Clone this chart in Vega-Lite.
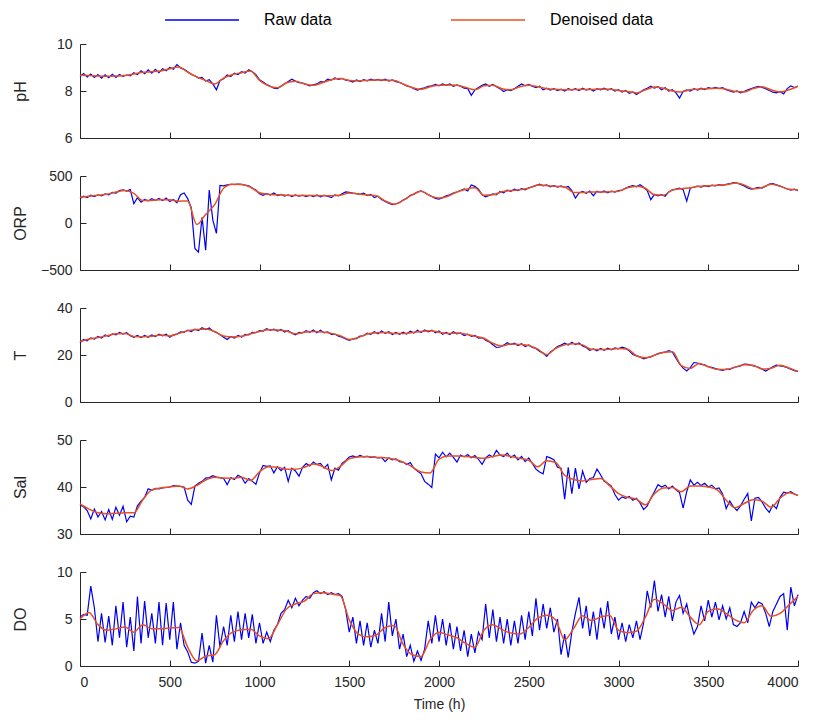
{
"$schema":"https://vega.github.io/schema/vega-lite/v6.json",
"padding":{"left":12,"top":12,"right":15,"bottom":5},
"background":"white",
"bounds":"flush",
"config":{"view":{"stroke":null},
"axis":{"grid":false,"domainColor":"#262626","tickColor":"#262626","labelColor":"#262626","titleColor":"#262626","labelFont":"Liberation Sans","titleFont":"Liberation Sans","labelFontSize":14,"titleFontSize":16,"titleFontWeight":"normal","tickSize":-6,"domainWidth":1,"tickWidth":1}},
"spacing":38,
"datasets":{
"pH_raw":[{"t":0,"v":8.62},{"t":20,"v":8.74},{"t":40,"v":8.6},{"t":60,"v":8.72},{"t":80,"v":8.58},{"t":100,"v":8.7},{"t":120,"v":8.55},{"t":140,"v":8.69},{"t":160,"v":8.57},{"t":180,"v":8.71},{"t":200,"v":8.58},{"t":220,"v":8.7},{"t":240,"v":8.62},{"t":260,"v":8.68},{"t":280,"v":8.64},{"t":300,"v":8.78},{"t":320,"v":8.7},{"t":340,"v":8.86},{"t":360,"v":8.74},{"t":380,"v":8.9},{"t":400,"v":8.76},{"t":420,"v":8.92},{"t":440,"v":8.78},{"t":460,"v":8.95},{"t":480,"v":8.86},{"t":500,"v":9.0},{"t":520,"v":8.93},{"t":540,"v":9.12},{"t":560,"v":8.98},{"t":580,"v":8.92},{"t":600,"v":8.82},{"t":620,"v":8.7},{"t":640,"v":8.65},{"t":660,"v":8.55},{"t":680,"v":8.58},{"t":700,"v":8.42},{"t":720,"v":8.48},{"t":740,"v":8.3},{"t":760,"v":8.05},{"t":780,"v":8.45},{"t":800,"v":8.52},{"t":820,"v":8.68},{"t":840,"v":8.62},{"t":860,"v":8.76},{"t":880,"v":8.7},{"t":900,"v":8.82},{"t":920,"v":8.76},{"t":940,"v":8.9},{"t":960,"v":8.82},{"t":980,"v":8.7},{"t":1000,"v":8.48},{"t":1020,"v":8.38},{"t":1040,"v":8.28},{"t":1060,"v":8.2},{"t":1080,"v":8.12},{"t":1100,"v":8.1},{"t":1120,"v":8.2},{"t":1140,"v":8.3},{"t":1160,"v":8.4},{"t":1180,"v":8.5},{"t":1200,"v":8.42},{"t":1220,"v":8.36},{"t":1240,"v":8.34},{"t":1260,"v":8.28},{"t":1280,"v":8.22},{"t":1300,"v":8.26},{"t":1320,"v":8.3},{"t":1340,"v":8.4},{"t":1360,"v":8.38},{"t":1380,"v":8.5},{"t":1400,"v":8.46},{"t":1420,"v":8.56},{"t":1440,"v":8.5},{"t":1460,"v":8.54},{"t":1480,"v":8.46},{"t":1500,"v":8.44},{"t":1520,"v":8.38},{"t":1540,"v":8.47},{"t":1560,"v":8.4},{"t":1580,"v":8.48},{"t":1600,"v":8.43},{"t":1620,"v":8.5},{"t":1640,"v":8.45},{"t":1660,"v":8.49},{"t":1680,"v":8.44},{"t":1700,"v":8.5},{"t":1720,"v":8.42},{"t":1740,"v":8.47},{"t":1760,"v":8.4},{"t":1780,"v":8.36},{"t":1800,"v":8.3},{"t":1820,"v":8.22},{"t":1840,"v":8.18},{"t":1860,"v":8.1},{"t":1880,"v":8.04},{"t":1900,"v":8.1},{"t":1920,"v":8.14},{"t":1940,"v":8.2},{"t":1960,"v":8.22},{"t":1980,"v":8.28},{"t":2000,"v":8.22},{"t":2020,"v":8.3},{"t":2040,"v":8.24},{"t":2060,"v":8.3},{"t":2080,"v":8.2},{"t":2100,"v":8.26},{"t":2120,"v":8.2},{"t":2140,"v":8.12},{"t":2160,"v":8.1},{"t":2180,"v":7.82},{"t":2200,"v":8.05},{"t":2220,"v":8.15},{"t":2240,"v":8.24},{"t":2260,"v":8.3},{"t":2280,"v":8.2},{"t":2300,"v":8.28},{"t":2320,"v":8.18},{"t":2340,"v":8.1},{"t":2360,"v":7.98},{"t":2380,"v":8.05},{"t":2400,"v":8.02},{"t":2420,"v":8.1},{"t":2440,"v":8.2},{"t":2460,"v":8.3},{"t":2480,"v":8.22},{"t":2500,"v":8.28},{"t":2520,"v":8.2},{"t":2540,"v":8.14},{"t":2560,"v":8.2},{"t":2580,"v":8.05},{"t":2600,"v":8.12},{"t":2620,"v":8.04},{"t":2640,"v":8.1},{"t":2660,"v":8.02},{"t":2680,"v":8.08},{"t":2700,"v":8.0},{"t":2720,"v":8.1},{"t":2740,"v":8.04},{"t":2760,"v":8.1},{"t":2780,"v":8.02},{"t":2800,"v":8.12},{"t":2820,"v":8.04},{"t":2840,"v":8.1},{"t":2860,"v":8.0},{"t":2880,"v":8.1},{"t":2900,"v":8.05},{"t":2920,"v":8.12},{"t":2940,"v":8.04},{"t":2960,"v":8.1},{"t":2980,"v":8.0},{"t":3000,"v":8.06},{"t":3020,"v":7.95},{"t":3040,"v":8.02},{"t":3060,"v":7.9},{"t":3080,"v":7.96},{"t":3100,"v":7.85},{"t":3120,"v":7.95},{"t":3140,"v":8.05},{"t":3160,"v":8.12},{"t":3180,"v":8.2},{"t":3200,"v":8.12},{"t":3220,"v":8.18},{"t":3240,"v":8.05},{"t":3260,"v":8.14},{"t":3280,"v":8.0},{"t":3300,"v":8.06},{"t":3320,"v":7.92},{"t":3340,"v":7.7},{"t":3360,"v":7.98},{"t":3380,"v":8.05},{"t":3400,"v":8.0},{"t":3420,"v":8.1},{"t":3440,"v":8.04},{"t":3460,"v":8.12},{"t":3480,"v":8.06},{"t":3500,"v":8.14},{"t":3520,"v":8.1},{"t":3540,"v":8.15},{"t":3560,"v":8.1},{"t":3580,"v":8.14},{"t":3600,"v":8.05},{"t":3620,"v":8.0},{"t":3640,"v":7.95},{"t":3660,"v":8.0},{"t":3680,"v":7.92},{"t":3700,"v":7.98},{"t":3720,"v":8.05},{"t":3740,"v":8.1},{"t":3760,"v":8.16},{"t":3780,"v":8.2},{"t":3800,"v":8.15},{"t":3820,"v":8.1},{"t":3840,"v":8.02},{"t":3860,"v":7.95},{"t":3880,"v":7.92},{"t":3900,"v":7.98},{"t":3920,"v":7.88},{"t":3940,"v":8.1},{"t":3960,"v":8.22},{"t":3980,"v":8.15},{"t":4000,"v":8.2}],
"pH_den":[{"t":0,"v":8.67},{"t":50,"v":8.66},{"t":100,"v":8.64},{"t":150,"v":8.63},{"t":200,"v":8.64},{"t":250,"v":8.66},{"t":300,"v":8.72},{"t":350,"v":8.8},{"t":400,"v":8.82},{"t":450,"v":8.85},{"t":500,"v":8.95},{"t":550,"v":9.02},{"t":600,"v":8.8},{"t":650,"v":8.6},{"t":700,"v":8.45},{"t":750,"v":8.3},{"t":800,"v":8.55},{"t":850,"v":8.7},{"t":900,"v":8.78},{"t":950,"v":8.85},{"t":1000,"v":8.45},{"t":1050,"v":8.22},{"t":1100,"v":8.14},{"t":1150,"v":8.35},{"t":1200,"v":8.42},{"t":1250,"v":8.3},{"t":1300,"v":8.24},{"t":1350,"v":8.35},{"t":1400,"v":8.48},{"t":1450,"v":8.53},{"t":1500,"v":8.45},{"t":1550,"v":8.43},{"t":1600,"v":8.45},{"t":1650,"v":8.47},{"t":1700,"v":8.46},{"t":1750,"v":8.45},{"t":1800,"v":8.3},{"t":1850,"v":8.15},{"t":1900,"v":8.07},{"t":1950,"v":8.18},{"t":2000,"v":8.24},{"t":2050,"v":8.26},{"t":2100,"v":8.24},{"t":2150,"v":8.15},{"t":2200,"v":8.05},{"t":2250,"v":8.22},{"t":2300,"v":8.25},{"t":2350,"v":8.1},{"t":2400,"v":8.05},{"t":2450,"v":8.18},{"t":2500,"v":8.24},{"t":2550,"v":8.18},{"t":2600,"v":8.1},{"t":2650,"v":8.07},{"t":2700,"v":8.05},{"t":2750,"v":8.06},{"t":2800,"v":8.07},{"t":2850,"v":8.06},{"t":2900,"v":8.08},{"t":2950,"v":8.07},{"t":3000,"v":8.02},{"t":3050,"v":7.98},{"t":3100,"v":7.92},{"t":3150,"v":8.05},{"t":3200,"v":8.17},{"t":3250,"v":8.12},{"t":3300,"v":8.0},{"t":3350,"v":7.96},{"t":3400,"v":8.05},{"t":3450,"v":8.08},{"t":3500,"v":8.1},{"t":3550,"v":8.12},{"t":3600,"v":8.08},{"t":3650,"v":7.98},{"t":3700,"v":7.96},{"t":3750,"v":8.1},{"t":3800,"v":8.18},{"t":3850,"v":8.05},{"t":3900,"v":7.96},{"t":3950,"v":8.05},{"t":4000,"v":8.2}],
"ORP_raw":[{"t":0,"v":262},{"t":20,"v":285},{"t":40,"v":270},{"t":60,"v":295},{"t":80,"v":280},{"t":100,"v":300},{"t":120,"v":288},{"t":140,"v":310},{"t":160,"v":300},{"t":180,"v":325},{"t":200,"v":318},{"t":220,"v":345},{"t":240,"v":352},{"t":260,"v":340},{"t":280,"v":355},{"t":300,"v":205},{"t":320,"v":270},{"t":340,"v":222},{"t":360,"v":250},{"t":380,"v":235},{"t":400,"v":258},{"t":420,"v":240},{"t":440,"v":262},{"t":460,"v":238},{"t":480,"v":265},{"t":500,"v":228},{"t":520,"v":250},{"t":540,"v":215},{"t":560,"v":300},{"t":580,"v":320},{"t":600,"v":260},{"t":620,"v":160},{"t":640,"v":-270},{"t":660,"v":-310},{"t":680,"v":60},{"t":700,"v":-290},{"t":720,"v":350},{"t":740,"v":30},{"t":760,"v":-110},{"t":780,"v":400},{"t":800,"v":395},{"t":820,"v":405},{"t":840,"v":412},{"t":860,"v":408},{"t":880,"v":414},{"t":900,"v":410},{"t":920,"v":402},{"t":940,"v":395},{"t":960,"v":372},{"t":980,"v":350},{"t":1000,"v":310},{"t":1020,"v":295},{"t":1040,"v":312},{"t":1060,"v":298},{"t":1080,"v":320},{"t":1100,"v":292},{"t":1120,"v":305},{"t":1140,"v":285},{"t":1160,"v":300},{"t":1180,"v":282},{"t":1200,"v":298},{"t":1220,"v":285},{"t":1240,"v":296},{"t":1260,"v":280},{"t":1280,"v":295},{"t":1300,"v":282},{"t":1320,"v":298},{"t":1340,"v":278},{"t":1360,"v":296},{"t":1380,"v":284},{"t":1400,"v":270},{"t":1420,"v":300},{"t":1440,"v":288},{"t":1460,"v":310},{"t":1480,"v":330},{"t":1500,"v":325},{"t":1520,"v":318},{"t":1540,"v":312},{"t":1560,"v":305},{"t":1580,"v":318},{"t":1600,"v":292},{"t":1620,"v":305},{"t":1640,"v":270},{"t":1660,"v":285},{"t":1680,"v":250},{"t":1700,"v":228},{"t":1720,"v":212},{"t":1740,"v":195},{"t":1760,"v":205},{"t":1780,"v":218},{"t":1800,"v":245},{"t":1820,"v":262},{"t":1840,"v":295},{"t":1860,"v":305},{"t":1880,"v":330},{"t":1900,"v":342},{"t":1920,"v":325},{"t":1940,"v":300},{"t":1960,"v":282},{"t":1980,"v":262},{"t":2000,"v":255},{"t":2020,"v":270},{"t":2040,"v":290},{"t":2060,"v":300},{"t":2080,"v":318},{"t":2100,"v":330},{"t":2120,"v":345},{"t":2140,"v":362},{"t":2160,"v":340},{"t":2180,"v":405},{"t":2200,"v":390},{"t":2220,"v":360},{"t":2240,"v":300},{"t":2260,"v":278},{"t":2280,"v":292},{"t":2300,"v":310},{"t":2320,"v":300},{"t":2340,"v":335},{"t":2360,"v":322},{"t":2380,"v":350},{"t":2400,"v":338},{"t":2420,"v":360},{"t":2440,"v":345},{"t":2460,"v":365},{"t":2480,"v":352},{"t":2500,"v":375},{"t":2520,"v":385},{"t":2540,"v":398},{"t":2560,"v":412},{"t":2580,"v":395},{"t":2600,"v":405},{"t":2620,"v":385},{"t":2640,"v":398},{"t":2660,"v":382},{"t":2680,"v":395},{"t":2700,"v":378},{"t":2720,"v":388},{"t":2740,"v":345},{"t":2760,"v":265},{"t":2780,"v":320},{"t":2800,"v":335},{"t":2820,"v":315},{"t":2840,"v":340},{"t":2860,"v":290},{"t":2880,"v":338},{"t":2900,"v":325},{"t":2920,"v":342},{"t":2940,"v":322},{"t":2960,"v":340},{"t":2980,"v":328},{"t":3000,"v":345},{"t":3020,"v":350},{"t":3040,"v":372},{"t":3060,"v":388},{"t":3080,"v":398},{"t":3100,"v":385},{"t":3120,"v":408},{"t":3140,"v":380},{"t":3160,"v":345},{"t":3180,"v":248},{"t":3200,"v":305},{"t":3220,"v":290},{"t":3240,"v":302},{"t":3260,"v":285},{"t":3280,"v":330},{"t":3300,"v":352},{"t":3320,"v":360},{"t":3340,"v":370},{"t":3360,"v":355},{"t":3380,"v":232},{"t":3400,"v":372},{"t":3420,"v":380},{"t":3440,"v":392},{"t":3460,"v":382},{"t":3480,"v":398},{"t":3500,"v":388},{"t":3520,"v":402},{"t":3540,"v":395},{"t":3560,"v":408},{"t":3580,"v":400},{"t":3600,"v":412},{"t":3620,"v":418},{"t":3640,"v":430},{"t":3660,"v":425},{"t":3680,"v":410},{"t":3700,"v":395},{"t":3720,"v":372},{"t":3740,"v":360},{"t":3760,"v":368},{"t":3780,"v":380},{"t":3800,"v":372},{"t":3820,"v":392},{"t":3840,"v":415},{"t":3860,"v":420},{"t":3880,"v":405},{"t":3900,"v":392},{"t":3920,"v":378},{"t":3940,"v":362},{"t":3960,"v":350},{"t":3980,"v":360},{"t":4000,"v":345}],
"ORP_den":[{"t":0,"v":275},{"t":50,"v":285},{"t":100,"v":295},{"t":150,"v":305},{"t":200,"v":330},{"t":250,"v":345},{"t":300,"v":315},{"t":350,"v":240},{"t":400,"v":240},{"t":450,"v":248},{"t":500,"v":248},{"t":550,"v":232},{"t":600,"v":235},{"t":650,"v":-15},{"t":700,"v":90},{"t":750,"v":195},{"t":800,"v":370},{"t":850,"v":412},{"t":900,"v":410},{"t":950,"v":380},{"t":1000,"v":322},{"t":1050,"v":305},{"t":1100,"v":300},{"t":1150,"v":296},{"t":1200,"v":293},{"t":1250,"v":292},{"t":1300,"v":292},{"t":1350,"v":290},{"t":1400,"v":291},{"t":1450,"v":295},{"t":1500,"v":320},{"t":1550,"v":308},{"t":1600,"v":298},{"t":1650,"v":290},{"t":1700,"v":235},{"t":1750,"v":200},{"t":1800,"v":240},{"t":1850,"v":300},{"t":1900,"v":338},{"t":1950,"v":290},{"t":2000,"v":265},{"t":2050,"v":285},{"t":2100,"v":330},{"t":2150,"v":360},{"t":2200,"v":375},{"t":2250,"v":295},{"t":2300,"v":300},{"t":2350,"v":332},{"t":2400,"v":345},{"t":2450,"v":355},{"t":2500,"v":370},{"t":2550,"v":405},{"t":2600,"v":398},{"t":2650,"v":390},{"t":2700,"v":384},{"t":2750,"v":325},{"t":2800,"v":325},{"t":2850,"v":330},{"t":2900,"v":330},{"t":2950,"v":332},{"t":3000,"v":338},{"t":3050,"v":375},{"t":3100,"v":392},{"t":3150,"v":370},{"t":3200,"v":300},{"t":3250,"v":295},{"t":3300,"v":352},{"t":3350,"v":365},{"t":3400,"v":375},{"t":3450,"v":390},{"t":3500,"v":395},{"t":3550,"v":402},{"t":3600,"v":408},{"t":3650,"v":425},{"t":3700,"v":405},{"t":3750,"v":365},{"t":3800,"v":378},{"t":3850,"v":412},{"t":3900,"v":392},{"t":3950,"v":358},{"t":4000,"v":352}],
"T_raw":[{"t":0,"v":25.2},{"t":20,"v":26.6},{"t":40,"v":26.0},{"t":60,"v":27.3},{"t":80,"v":26.8},{"t":100,"v":27.9},{"t":120,"v":27.2},{"t":140,"v":28.5},{"t":160,"v":27.9},{"t":180,"v":29.0},{"t":200,"v":28.6},{"t":220,"v":29.6},{"t":240,"v":28.9},{"t":260,"v":29.5},{"t":280,"v":28.2},{"t":300,"v":27.5},{"t":320,"v":28.3},{"t":340,"v":27.4},{"t":360,"v":28.3},{"t":380,"v":27.5},{"t":400,"v":28.5},{"t":420,"v":27.8},{"t":440,"v":28.9},{"t":460,"v":28.2},{"t":480,"v":28.9},{"t":500,"v":27.6},{"t":520,"v":28.6},{"t":540,"v":28.9},{"t":560,"v":29.8},{"t":580,"v":29.6},{"t":600,"v":30.6},{"t":620,"v":30.0},{"t":640,"v":31.0},{"t":660,"v":30.4},{"t":680,"v":31.6},{"t":700,"v":30.8},{"t":720,"v":31.5},{"t":740,"v":30.2},{"t":760,"v":29.6},{"t":780,"v":28.6},{"t":800,"v":27.6},{"t":820,"v":26.6},{"t":840,"v":27.9},{"t":860,"v":27.2},{"t":880,"v":28.3},{"t":900,"v":27.6},{"t":920,"v":28.8},{"t":940,"v":28.6},{"t":960,"v":29.6},{"t":980,"v":29.5},{"t":1000,"v":30.4},{"t":1020,"v":30.2},{"t":1040,"v":31.2},{"t":1060,"v":30.5},{"t":1080,"v":31.0},{"t":1100,"v":30.2},{"t":1120,"v":30.9},{"t":1140,"v":29.8},{"t":1160,"v":30.4},{"t":1180,"v":29.3},{"t":1200,"v":28.6},{"t":1220,"v":29.6},{"t":1240,"v":29.4},{"t":1260,"v":30.4},{"t":1280,"v":29.7},{"t":1300,"v":30.6},{"t":1320,"v":29.5},{"t":1340,"v":30.5},{"t":1360,"v":29.4},{"t":1380,"v":29.8},{"t":1400,"v":28.8},{"t":1420,"v":28.9},{"t":1440,"v":28.0},{"t":1460,"v":27.6},{"t":1480,"v":26.8},{"t":1500,"v":26.2},{"t":1520,"v":26.8},{"t":1540,"v":27.0},{"t":1560,"v":28.0},{"t":1580,"v":28.2},{"t":1600,"v":29.3},{"t":1620,"v":28.8},{"t":1640,"v":29.9},{"t":1660,"v":29.0},{"t":1680,"v":30.2},{"t":1700,"v":29.2},{"t":1720,"v":29.9},{"t":1740,"v":28.7},{"t":1760,"v":29.6},{"t":1780,"v":28.8},{"t":1800,"v":29.7},{"t":1820,"v":28.9},{"t":1840,"v":30.1},{"t":1860,"v":29.3},{"t":1880,"v":30.5},{"t":1900,"v":29.6},{"t":1920,"v":30.7},{"t":1940,"v":29.9},{"t":1960,"v":30.6},{"t":1980,"v":29.4},{"t":2000,"v":30.2},{"t":2020,"v":28.8},{"t":2040,"v":29.6},{"t":2060,"v":28.7},{"t":2080,"v":29.9},{"t":2100,"v":29.0},{"t":2120,"v":29.4},{"t":2140,"v":28.3},{"t":2160,"v":28.9},{"t":2180,"v":27.9},{"t":2200,"v":28.3},{"t":2220,"v":27.2},{"t":2240,"v":27.4},{"t":2260,"v":26.3},{"t":2280,"v":25.6},{"t":2300,"v":24.4},{"t":2320,"v":23.2},{"t":2340,"v":23.4},{"t":2360,"v":24.2},{"t":2380,"v":25.2},{"t":2400,"v":24.4},{"t":2420,"v":25.0},{"t":2440,"v":24.0},{"t":2460,"v":24.8},{"t":2480,"v":23.6},{"t":2500,"v":24.3},{"t":2520,"v":23.2},{"t":2540,"v":22.8},{"t":2560,"v":21.6},{"t":2580,"v":20.8},{"t":2600,"v":19.4},{"t":2620,"v":21.2},{"t":2640,"v":22.4},{"t":2660,"v":23.6},{"t":2680,"v":24.2},{"t":2700,"v":25.0},{"t":2720,"v":24.2},{"t":2740,"v":25.4},{"t":2760,"v":24.4},{"t":2780,"v":25.1},{"t":2800,"v":23.8},{"t":2820,"v":23.2},{"t":2840,"v":22.0},{"t":2860,"v":22.6},{"t":2880,"v":21.8},{"t":2900,"v":22.8},{"t":2920,"v":22.0},{"t":2940,"v":22.9},{"t":2960,"v":22.2},{"t":2980,"v":23.0},{"t":3000,"v":22.6},{"t":3020,"v":23.3},{"t":3040,"v":22.8},{"t":3060,"v":21.8},{"t":3080,"v":20.2},{"t":3100,"v":19.6},{"t":3120,"v":19.2},{"t":3140,"v":18.4},{"t":3160,"v":18.9},{"t":3180,"v":19.2},{"t":3200,"v":19.9},{"t":3220,"v":20.6},{"t":3240,"v":21.0},{"t":3260,"v":21.2},{"t":3280,"v":21.9},{"t":3300,"v":21.3},{"t":3320,"v":18.6},{"t":3340,"v":16.2},{"t":3360,"v":14.4},{"t":3380,"v":13.2},{"t":3400,"v":14.6},{"t":3420,"v":16.8},{"t":3440,"v":16.6},{"t":3460,"v":16.0},{"t":3480,"v":15.8},{"t":3500,"v":15.0},{"t":3520,"v":14.8},{"t":3540,"v":14.2},{"t":3560,"v":13.8},{"t":3580,"v":13.5},{"t":3600,"v":14.0},{"t":3620,"v":13.9},{"t":3640,"v":14.6},{"t":3660,"v":15.0},{"t":3680,"v":15.4},{"t":3700,"v":16.1},{"t":3720,"v":16.0},{"t":3740,"v":15.6},{"t":3760,"v":15.2},{"t":3780,"v":14.8},{"t":3800,"v":14.0},{"t":3820,"v":13.2},{"t":3840,"v":14.0},{"t":3860,"v":15.0},{"t":3880,"v":15.7},{"t":3900,"v":15.4},{"t":3920,"v":15.1},{"t":3940,"v":14.6},{"t":3960,"v":14.0},{"t":3980,"v":13.3},{"t":4000,"v":13.0}],
"T_den":[{"t":0,"v":25.7},{"t":50,"v":26.8},{"t":100,"v":27.4},{"t":150,"v":28.2},{"t":200,"v":29.0},{"t":250,"v":29.2},{"t":300,"v":27.9},{"t":350,"v":27.8},{"t":400,"v":28.0},{"t":450,"v":28.5},{"t":500,"v":28.1},{"t":550,"v":29.2},{"t":600,"v":30.3},{"t":650,"v":30.8},{"t":700,"v":31.1},{"t":750,"v":30.0},{"t":800,"v":28.1},{"t":850,"v":27.7},{"t":900,"v":28.0},{"t":950,"v":29.0},{"t":1000,"v":30.0},{"t":1050,"v":30.7},{"t":1100,"v":30.6},{"t":1150,"v":30.2},{"t":1200,"v":29.0},{"t":1250,"v":29.7},{"t":1300,"v":30.0},{"t":1350,"v":29.8},{"t":1400,"v":29.2},{"t":1450,"v":28.2},{"t":1500,"v":26.6},{"t":1550,"v":27.4},{"t":1600,"v":28.9},{"t":1650,"v":29.5},{"t":1700,"v":29.6},{"t":1750,"v":29.2},{"t":1800,"v":29.1},{"t":1850,"v":29.6},{"t":1900,"v":30.0},{"t":1950,"v":30.3},{"t":2000,"v":29.7},{"t":2050,"v":29.2},{"t":2100,"v":29.4},{"t":2150,"v":28.8},{"t":2200,"v":28.0},{"t":2250,"v":27.1},{"t":2300,"v":25.0},{"t":2350,"v":23.8},{"t":2400,"v":24.7},{"t":2450,"v":24.5},{"t":2500,"v":24.0},{"t":2550,"v":22.5},{"t":2600,"v":20.2},{"t":2650,"v":22.8},{"t":2700,"v":24.3},{"t":2750,"v":24.8},{"t":2800,"v":24.3},{"t":2850,"v":22.4},{"t":2900,"v":22.3},{"t":2950,"v":22.4},{"t":3000,"v":22.8},{"t":3050,"v":22.5},{"t":3100,"v":19.7},{"t":3150,"v":18.8},{"t":3200,"v":19.9},{"t":3250,"v":21.1},{"t":3300,"v":21.4},{"t":3350,"v":15.5},{"t":3400,"v":14.3},{"t":3450,"v":16.4},{"t":3500,"v":15.0},{"t":3550,"v":13.9},{"t":3600,"v":13.8},{"t":3650,"v":14.8},{"t":3700,"v":15.9},{"t":3750,"v":15.6},{"t":3800,"v":14.0},{"t":3850,"v":14.4},{"t":3900,"v":15.6},{"t":3950,"v":14.5},{"t":4000,"v":13.0}],
"Sal_raw":[{"t":0,"v":36.2},{"t":20,"v":35.8},{"t":40,"v":35.0},{"t":60,"v":33.2},{"t":80,"v":35.3},{"t":100,"v":33.6},{"t":120,"v":34.8},{"t":140,"v":33.0},{"t":160,"v":35.2},{"t":180,"v":33.1},{"t":200,"v":35.7},{"t":220,"v":34.0},{"t":240,"v":35.9},{"t":260,"v":32.6},{"t":280,"v":33.8},{"t":300,"v":33.6},{"t":320,"v":36.0},{"t":340,"v":37.0},{"t":360,"v":37.8},{"t":380,"v":39.6},{"t":400,"v":39.3},{"t":420,"v":39.7},{"t":440,"v":39.6},{"t":460,"v":39.8},{"t":480,"v":39.9},{"t":500,"v":40.0},{"t":520,"v":40.3},{"t":540,"v":40.2},{"t":560,"v":40.1},{"t":580,"v":40.0},{"t":600,"v":37.2},{"t":620,"v":36.3},{"t":640,"v":40.2},{"t":660,"v":40.8},{"t":680,"v":41.2},{"t":700,"v":41.9},{"t":720,"v":42.0},{"t":740,"v":42.4},{"t":760,"v":42.1},{"t":780,"v":42.0},{"t":800,"v":41.8},{"t":820,"v":40.5},{"t":840,"v":42.0},{"t":860,"v":41.6},{"t":880,"v":42.5},{"t":900,"v":42.1},{"t":920,"v":40.8},{"t":940,"v":41.8},{"t":960,"v":41.2},{"t":980,"v":40.6},{"t":1000,"v":43.0},{"t":1020,"v":44.6},{"t":1040,"v":44.4},{"t":1060,"v":44.5},{"t":1080,"v":43.0},{"t":1100,"v":44.3},{"t":1120,"v":43.5},{"t":1140,"v":44.2},{"t":1160,"v":41.2},{"t":1180,"v":44.0},{"t":1200,"v":43.4},{"t":1220,"v":42.3},{"t":1240,"v":44.2},{"t":1260,"v":45.0},{"t":1280,"v":44.5},{"t":1300,"v":45.3},{"t":1320,"v":44.8},{"t":1340,"v":45.0},{"t":1360,"v":44.0},{"t":1380,"v":44.8},{"t":1400,"v":41.5},{"t":1420,"v":44.0},{"t":1440,"v":43.6},{"t":1460,"v":45.0},{"t":1480,"v":45.6},{"t":1500,"v":46.4},{"t":1520,"v":46.6},{"t":1540,"v":46.3},{"t":1560,"v":46.7},{"t":1580,"v":46.4},{"t":1600,"v":46.5},{"t":1620,"v":46.3},{"t":1640,"v":46.4},{"t":1660,"v":46.2},{"t":1680,"v":46.3},{"t":1700,"v":45.4},{"t":1720,"v":46.2},{"t":1740,"v":45.8},{"t":1760,"v":46.0},{"t":1780,"v":45.4},{"t":1800,"v":45.3},{"t":1820,"v":44.8},{"t":1840,"v":45.2},{"t":1860,"v":44.0},{"t":1880,"v":43.4},{"t":1900,"v":42.8},{"t":1920,"v":41.2},{"t":1940,"v":40.6},{"t":1960,"v":39.9},{"t":1980,"v":47.0},{"t":2000,"v":46.2},{"t":2020,"v":47.4},{"t":2040,"v":46.4},{"t":2060,"v":47.2},{"t":2080,"v":46.3},{"t":2100,"v":45.3},{"t":2120,"v":46.8},{"t":2140,"v":46.4},{"t":2160,"v":46.9},{"t":2180,"v":46.2},{"t":2200,"v":46.7},{"t":2220,"v":45.9},{"t":2240,"v":44.8},{"t":2260,"v":46.2},{"t":2280,"v":46.8},{"t":2300,"v":46.4},{"t":2320,"v":47.8},{"t":2340,"v":46.8},{"t":2360,"v":46.5},{"t":2380,"v":47.2},{"t":2400,"v":46.3},{"t":2420,"v":46.8},{"t":2440,"v":45.8},{"t":2460,"v":46.5},{"t":2480,"v":45.4},{"t":2500,"v":46.2},{"t":2520,"v":45.0},{"t":2540,"v":43.8},{"t":2560,"v":43.2},{"t":2580,"v":42.8},{"t":2600,"v":46.5},{"t":2620,"v":46.2},{"t":2640,"v":45.8},{"t":2660,"v":44.2},{"t":2680,"v":44.0},{"t":2700,"v":37.4},{"t":2720,"v":44.2},{"t":2740,"v":38.6},{"t":2760,"v":44.0},{"t":2780,"v":39.6},{"t":2800,"v":43.4},{"t":2820,"v":41.0},{"t":2840,"v":41.8},{"t":2860,"v":42.0},{"t":2880,"v":43.8},{"t":2900,"v":42.6},{"t":2920,"v":41.2},{"t":2940,"v":40.8},{"t":2960,"v":40.2},{"t":2980,"v":38.4},{"t":3000,"v":37.2},{"t":3020,"v":37.9},{"t":3040,"v":37.6},{"t":3060,"v":38.0},{"t":3080,"v":37.2},{"t":3100,"v":37.6},{"t":3120,"v":36.6},{"t":3140,"v":35.2},{"t":3160,"v":36.0},{"t":3180,"v":37.6},{"t":3200,"v":39.0},{"t":3220,"v":40.5},{"t":3240,"v":40.0},{"t":3260,"v":40.4},{"t":3280,"v":39.6},{"t":3300,"v":40.2},{"t":3320,"v":39.4},{"t":3340,"v":38.8},{"t":3360,"v":35.5},{"t":3380,"v":39.0},{"t":3400,"v":41.5},{"t":3420,"v":40.4},{"t":3440,"v":41.0},{"t":3460,"v":40.3},{"t":3480,"v":40.8},{"t":3500,"v":40.0},{"t":3520,"v":40.4},{"t":3540,"v":39.6},{"t":3560,"v":39.8},{"t":3580,"v":38.5},{"t":3600,"v":35.4},{"t":3620,"v":37.0},{"t":3640,"v":35.8},{"t":3660,"v":35.0},{"t":3680,"v":36.0},{"t":3700,"v":37.4},{"t":3720,"v":38.6},{"t":3740,"v":32.8},{"t":3760,"v":37.6},{"t":3780,"v":37.8},{"t":3800,"v":36.8},{"t":3820,"v":35.5},{"t":3840,"v":34.6},{"t":3860,"v":36.2},{"t":3880,"v":35.4},{"t":3900,"v":37.8},{"t":3920,"v":38.9},{"t":3940,"v":38.7},{"t":3960,"v":39.0},{"t":3980,"v":38.5},{"t":4000,"v":38.2}],
"Sal_den":[{"t":0,"v":36.4},{"t":50,"v":35.3},{"t":100,"v":34.5},{"t":150,"v":34.3},{"t":200,"v":34.4},{"t":250,"v":34.5},{"t":300,"v":34.5},{"t":350,"v":37.3},{"t":400,"v":39.4},{"t":450,"v":39.8},{"t":500,"v":40.0},{"t":550,"v":40.2},{"t":600,"v":39.6},{"t":650,"v":40.3},{"t":700,"v":41.5},{"t":750,"v":42.1},{"t":800,"v":41.9},{"t":850,"v":41.8},{"t":900,"v":42.1},{"t":950,"v":41.4},{"t":1000,"v":43.2},{"t":1050,"v":44.3},{"t":1100,"v":44.2},{"t":1150,"v":43.8},{"t":1200,"v":43.8},{"t":1250,"v":44.2},{"t":1300,"v":44.9},{"t":1350,"v":44.4},{"t":1400,"v":43.5},{"t":1450,"v":44.4},{"t":1500,"v":46.0},{"t":1550,"v":46.4},{"t":1600,"v":46.5},{"t":1650,"v":46.3},{"t":1700,"v":46.2},{"t":1750,"v":45.9},{"t":1800,"v":45.3},{"t":1850,"v":44.3},{"t":1900,"v":43.2},{"t":1950,"v":43.0},{"t":2000,"v":45.9},{"t":2050,"v":46.6},{"t":2100,"v":46.6},{"t":2150,"v":46.5},{"t":2200,"v":46.3},{"t":2250,"v":46.1},{"t":2300,"v":46.5},{"t":2350,"v":46.8},{"t":2400,"v":46.5},{"t":2450,"v":46.1},{"t":2500,"v":45.7},{"t":2550,"v":44.3},{"t":2600,"v":45.6},{"t":2650,"v":45.2},{"t":2700,"v":42.5},{"t":2750,"v":41.6},{"t":2800,"v":41.3},{"t":2850,"v":41.6},{"t":2900,"v":41.8},{"t":2950,"v":40.3},{"t":3000,"v":38.6},{"t":3050,"v":37.8},{"t":3100,"v":37.4},{"t":3150,"v":36.2},{"t":3200,"v":38.6},{"t":3250,"v":39.8},{"t":3300,"v":39.9},{"t":3350,"v":39.0},{"t":3400,"v":40.2},{"t":3450,"v":40.2},{"t":3500,"v":40.0},{"t":3550,"v":39.4},{"t":3600,"v":37.2},{"t":3650,"v":35.6},{"t":3700,"v":36.5},{"t":3750,"v":37.3},{"t":3800,"v":37.0},{"t":3850,"v":35.7},{"t":3900,"v":37.6},{"t":3950,"v":38.8},{"t":4000,"v":38.2}],
"DO_raw":[{"t":0,"v":5.2},{"t":20,"v":5.5},{"t":40,"v":5.4},{"t":60,"v":8.5},{"t":80,"v":6.2},{"t":100,"v":2.6},{"t":120,"v":5.6},{"t":140,"v":2.5},{"t":160,"v":5.3},{"t":180,"v":2.2},{"t":200,"v":6.4},{"t":220,"v":3.0},{"t":240,"v":6.8},{"t":260,"v":2.0},{"t":280,"v":5.2},{"t":300,"v":1.6},{"t":320,"v":7.4},{"t":340,"v":2.4},{"t":360,"v":6.9},{"t":380,"v":3.0},{"t":400,"v":5.6},{"t":420,"v":2.4},{"t":440,"v":6.8},{"t":460,"v":2.2},{"t":480,"v":6.7},{"t":500,"v":2.8},{"t":520,"v":6.8},{"t":540,"v":1.8},{"t":560,"v":4.6},{"t":580,"v":2.2},{"t":600,"v":1.5},{"t":620,"v":0.4},{"t":640,"v":0.3},{"t":660,"v":0.5},{"t":680,"v":3.5},{"t":700,"v":0.3},{"t":720,"v":2.2},{"t":740,"v":0.4},{"t":760,"v":5.4},{"t":780,"v":2.0},{"t":800,"v":4.2},{"t":820,"v":2.2},{"t":840,"v":5.4},{"t":860,"v":2.6},{"t":880,"v":5.8},{"t":900,"v":2.8},{"t":920,"v":5.6},{"t":940,"v":3.0},{"t":960,"v":5.5},{"t":980,"v":2.4},{"t":1000,"v":4.6},{"t":1020,"v":2.4},{"t":1040,"v":3.6},{"t":1060,"v":2.6},{"t":1080,"v":3.8},{"t":1100,"v":4.4},{"t":1120,"v":5.6},{"t":1140,"v":6.0},{"t":1160,"v":7.0},{"t":1180,"v":6.2},{"t":1200,"v":7.2},{"t":1220,"v":6.4},{"t":1240,"v":7.0},{"t":1260,"v":7.4},{"t":1280,"v":7.2},{"t":1300,"v":7.8},{"t":1320,"v":8.0},{"t":1340,"v":7.7},{"t":1360,"v":7.9},{"t":1380,"v":7.6},{"t":1400,"v":7.8},{"t":1420,"v":7.6},{"t":1440,"v":7.7},{"t":1460,"v":7.4},{"t":1480,"v":6.0},{"t":1500,"v":3.6},{"t":1520,"v":5.2},{"t":1540,"v":2.4},{"t":1560,"v":4.8},{"t":1580,"v":2.2},{"t":1600,"v":4.6},{"t":1620,"v":2.0},{"t":1640,"v":3.8},{"t":1660,"v":2.4},{"t":1680,"v":5.6},{"t":1700,"v":2.6},{"t":1720,"v":6.8},{"t":1740,"v":3.2},{"t":1760,"v":5.0},{"t":1780,"v":1.8},{"t":1800,"v":3.4},{"t":1820,"v":1.0},{"t":1840,"v":2.2},{"t":1860,"v":0.5},{"t":1880,"v":1.6},{"t":1900,"v":0.6},{"t":1920,"v":1.8},{"t":1940,"v":4.8},{"t":1960,"v":2.4},{"t":1980,"v":5.4},{"t":2000,"v":2.6},{"t":2020,"v":5.0},{"t":2040,"v":2.2},{"t":2060,"v":4.6},{"t":2080,"v":1.8},{"t":2100,"v":4.2},{"t":2120,"v":1.6},{"t":2140,"v":3.8},{"t":2160,"v":1.0},{"t":2180,"v":3.4},{"t":2200,"v":1.4},{"t":2220,"v":3.6},{"t":2240,"v":2.8},{"t":2260,"v":6.6},{"t":2280,"v":3.0},{"t":2300,"v":6.0},{"t":2320,"v":2.6},{"t":2340,"v":5.2},{"t":2360,"v":2.4},{"t":2380,"v":5.0},{"t":2400,"v":2.2},{"t":2420,"v":4.8},{"t":2440,"v":2.4},{"t":2460,"v":5.4},{"t":2480,"v":2.8},{"t":2500,"v":5.8},{"t":2520,"v":3.2},{"t":2540,"v":7.2},{"t":2560,"v":3.8},{"t":2580,"v":6.6},{"t":2600,"v":4.0},{"t":2620,"v":6.2},{"t":2640,"v":3.6},{"t":2660,"v":5.0},{"t":2680,"v":1.2},{"t":2700,"v":3.4},{"t":2720,"v":0.9},{"t":2740,"v":3.6},{"t":2760,"v":5.6},{"t":2780,"v":7.3},{"t":2800,"v":4.0},{"t":2820,"v":6.4},{"t":2840,"v":3.2},{"t":2860,"v":5.8},{"t":2880,"v":2.8},{"t":2900,"v":6.2},{"t":2920,"v":4.0},{"t":2940,"v":6.9},{"t":2960,"v":3.4},{"t":2980,"v":5.2},{"t":3000,"v":2.8},{"t":3020,"v":4.6},{"t":3040,"v":2.6},{"t":3060,"v":4.4},{"t":3080,"v":3.0},{"t":3100,"v":4.8},{"t":3120,"v":2.8},{"t":3140,"v":4.6},{"t":3160,"v":8.0},{"t":3180,"v":6.2},{"t":3200,"v":9.1},{"t":3220,"v":5.8},{"t":3240,"v":7.6},{"t":3260,"v":5.2},{"t":3280,"v":7.4},{"t":3300,"v":4.8},{"t":3320,"v":6.8},{"t":3340,"v":7.5},{"t":3360,"v":5.6},{"t":3380,"v":6.6},{"t":3400,"v":4.8},{"t":3420,"v":3.4},{"t":3440,"v":4.2},{"t":3460,"v":6.4},{"t":3480,"v":4.8},{"t":3500,"v":7.0},{"t":3520,"v":5.2},{"t":3540,"v":6.8},{"t":3560,"v":4.9},{"t":3580,"v":6.4},{"t":3600,"v":5.0},{"t":3620,"v":6.2},{"t":3640,"v":4.4},{"t":3660,"v":4.2},{"t":3680,"v":4.6},{"t":3700,"v":5.8},{"t":3720,"v":4.6},{"t":3740,"v":6.8},{"t":3760,"v":6.2},{"t":3780,"v":6.8},{"t":3800,"v":6.6},{"t":3820,"v":5.6},{"t":3840,"v":4.2},{"t":3860,"v":5.8},{"t":3880,"v":6.6},{"t":3900,"v":7.4},{"t":3920,"v":7.7},{"t":3940,"v":3.8},{"t":3960,"v":8.4},{"t":3980,"v":6.4},{"t":4000,"v":7.6}],
"DO_den":[{"t":0,"v":5.0},{"t":50,"v":5.7},{"t":100,"v":4.4},{"t":150,"v":3.8},{"t":200,"v":3.95},{"t":250,"v":4.15},{"t":300,"v":3.6},{"t":350,"v":4.4},{"t":400,"v":3.95},{"t":450,"v":3.95},{"t":500,"v":4.05},{"t":550,"v":4.1},{"t":600,"v":2.0},{"t":650,"v":0.55},{"t":700,"v":1.05},{"t":750,"v":1.2},{"t":800,"v":2.7},{"t":850,"v":3.6},{"t":900,"v":3.85},{"t":950,"v":3.9},{"t":1000,"v":3.2},{"t":1050,"v":2.9},{"t":1100,"v":4.4},{"t":1150,"v":6.05},{"t":1200,"v":6.6},{"t":1250,"v":6.9},{"t":1300,"v":7.7},{"t":1350,"v":7.8},{"t":1400,"v":7.65},{"t":1450,"v":7.5},{"t":1500,"v":4.9},{"t":1550,"v":3.4},{"t":1600,"v":3.1},{"t":1650,"v":3.3},{"t":1700,"v":4.1},{"t":1750,"v":4.3},{"t":1800,"v":2.3},{"t":1850,"v":1.2},{"t":1900,"v":1.0},{"t":1950,"v":2.8},{"t":2000,"v":3.6},{"t":2050,"v":3.3},{"t":2100,"v":3.0},{"t":2150,"v":2.4},{"t":2200,"v":2.0},{"t":2250,"v":3.8},{"t":2300,"v":4.4},{"t":2350,"v":3.9},{"t":2400,"v":3.5},{"t":2450,"v":3.4},{"t":2500,"v":4.1},{"t":2550,"v":5.1},{"t":2600,"v":5.4},{"t":2650,"v":4.9},{"t":2700,"v":2.8},{"t":2750,"v":4.0},{"t":2800,"v":5.35},{"t":2850,"v":4.85},{"t":2900,"v":5.2},{"t":2950,"v":5.4},{"t":3000,"v":3.8},{"t":3050,"v":3.55},{"t":3100,"v":3.7},{"t":3150,"v":5.2},{"t":3200,"v":7.1},{"t":3250,"v":6.6},{"t":3300,"v":5.9},{"t":3350,"v":6.25},{"t":3400,"v":5.2},{"t":3450,"v":4.4},{"t":3500,"v":5.8},{"t":3550,"v":6.1},{"t":3600,"v":5.6},{"t":3650,"v":4.9},{"t":3700,"v":4.6},{"t":3750,"v":5.9},{"t":3800,"v":6.4},{"t":3850,"v":5.3},{"t":3900,"v":5.6},{"t":3950,"v":6.5},{"t":4000,"v":7.4}]
},
"vconcat":[
{"width":718,"height":94,"layer":[
 {"data":{"name":"pH_raw"},"mark":{"type":"line","strokeWidth":1.2},"encoding":{"x":{"field":"t","type":"quantitative","scale":{"domain":[0,4000],"nice":false},"axis":{"values":[0,500,1000,1500,2000,2500,3000,3500,4000],"labels":false,"title":null,"minExtent":0,"maxExtent":0}},"y":{"field":"v","type":"quantitative","scale":{"domain":[6,10],"nice":false,"zero":false},"axis":{"values":[6,8,10],"title":"pH","minExtent":40,"maxExtent":40,"titlePadding":12,"labelPadding":14}},"color":{"datum":"Raw data","type":"nominal","scale":{"domain":["Raw data","Denoised data"],"range":["#0000f0","#e8501f"]},"legend":{"title":null,"orient":"none","legendX":84,"legendY":-32,"direction":"horizontal","symbolType":"stroke","symbolSize":5476,"symbolStrokeWidth":1.5,"clipHeight":16,"labelFontSize":16,"labelFont":"Liberation Sans","labelColor":"#000000","labelOffset":24,"columnPadding":118,"padding":0}}}},
 {"data":{"name":"pH_den"},"mark":{"type":"line","strokeWidth":1.5,"interpolate":"monotone"},"encoding":{"x":{"field":"t","type":"quantitative"},"y":{"field":"v","type":"quantitative"},"color":{"datum":"Denoised data","type":"nominal"}}}
]},
{"width":718,"height":94,"layer":[
 {"data":{"name":"ORP_raw"},"mark":{"type":"line","strokeWidth":1.2},"encoding":{"x":{"field":"t","type":"quantitative","scale":{"domain":[0,4000],"nice":false},"axis":{"values":[0,500,1000,1500,2000,2500,3000,3500,4000],"labels":false,"title":null,"minExtent":0,"maxExtent":0}},"y":{"field":"v","type":"quantitative","scale":{"domain":[-500,500],"nice":false},"axis":{"values":[-500,0,500],"title":"ORP","minExtent":40,"maxExtent":40,"titlePadding":12,"labelPadding":14}},"color":{"datum":"Raw data","type":"nominal"}}},
 {"data":{"name":"ORP_den"},"mark":{"type":"line","strokeWidth":1.5,"interpolate":"monotone"},"encoding":{"x":{"field":"t","type":"quantitative"},"y":{"field":"v","type":"quantitative"},"color":{"datum":"Denoised data","type":"nominal"}}}
]},
{"width":718,"height":94,"layer":[
 {"data":{"name":"T_raw"},"mark":{"type":"line","strokeWidth":1.2},"encoding":{"x":{"field":"t","type":"quantitative","scale":{"domain":[0,4000],"nice":false},"axis":{"values":[0,500,1000,1500,2000,2500,3000,3500,4000],"labels":false,"title":null,"minExtent":0,"maxExtent":0}},"y":{"field":"v","type":"quantitative","scale":{"domain":[0,40],"nice":false},"axis":{"values":[0,20,40],"title":"T","minExtent":40,"maxExtent":40,"titlePadding":12,"labelPadding":14}},"color":{"datum":"Raw data","type":"nominal"}}},
 {"data":{"name":"T_den"},"mark":{"type":"line","strokeWidth":1.5,"interpolate":"monotone"},"encoding":{"x":{"field":"t","type":"quantitative"},"y":{"field":"v","type":"quantitative"},"color":{"datum":"Denoised data","type":"nominal"}}}
]},
{"width":718,"height":94,"layer":[
 {"data":{"name":"Sal_raw"},"mark":{"type":"line","strokeWidth":1.2},"encoding":{"x":{"field":"t","type":"quantitative","scale":{"domain":[0,4000],"nice":false},"axis":{"values":[0,500,1000,1500,2000,2500,3000,3500,4000],"labels":false,"title":null,"minExtent":0,"maxExtent":0}},"y":{"field":"v","type":"quantitative","scale":{"domain":[30,50],"nice":false,"zero":false},"axis":{"values":[30,40,50],"title":"Sal","minExtent":40,"maxExtent":40,"titlePadding":12,"labelPadding":14}},"color":{"datum":"Raw data","type":"nominal"}}},
 {"data":{"name":"Sal_den"},"mark":{"type":"line","strokeWidth":1.5,"interpolate":"monotone"},"encoding":{"x":{"field":"t","type":"quantitative"},"y":{"field":"v","type":"quantitative"},"color":{"datum":"Denoised data","type":"nominal"}}}
]},
{"width":718,"height":94,"layer":[
 {"data":{"name":"DO_raw"},"mark":{"type":"line","strokeWidth":1.2},"encoding":{"x":{"field":"t","type":"quantitative","scale":{"domain":[0,4000],"nice":false},"axis":{"values":[0,500,1000,1500,2000,2500,3000,3500,4000],"format":"d","labels":true,"title":"Time (h)","titleFontSize":14,"labelPadding":15,"titlePadding":8}},"y":{"field":"v","type":"quantitative","scale":{"domain":[0,10],"nice":false},"axis":{"values":[0,5,10],"title":"DO","minExtent":40,"maxExtent":40,"titlePadding":12,"labelPadding":14}},"color":{"datum":"Raw data","type":"nominal"}}},
 {"data":{"name":"DO_den"},"mark":{"type":"line","strokeWidth":1.5,"interpolate":"monotone"},"encoding":{"x":{"field":"t","type":"quantitative"},"y":{"field":"v","type":"quantitative"},"color":{"datum":"Denoised data","type":"nominal"}}}
]}
]
}
